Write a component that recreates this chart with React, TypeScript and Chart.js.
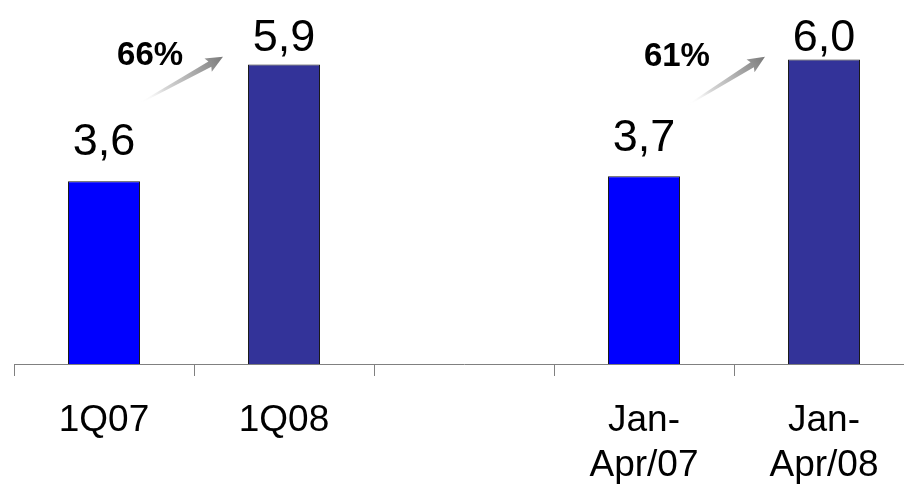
import React, { useEffect, useRef } from 'react';
import { Chart, registerables } from 'chart.js';

Chart.register(...registerables);

// ---- data ----
const categories: string[][] = [['1Q07'], ['1Q08'], [''], ['Jan-', 'Apr/07'], ['Jan-', 'Apr/08']];
const values: (number | null)[] = [3.6, 5.9, null, 3.7, 6.0];
const valueLabels: string[] = ['3,6', '5,9', '', '3,7', '6,0'];
const growthLabels: string[] = ['66%', '61%'];
const growthFrom: number[] = [0, 3];

// ---- style ----
const FONT = "'Liberation Sans', Arial, Helvetica, sans-serif";
const barColors = ['#0000FF', '#333399', '#0000FF', '#0000FF', '#333399'];
const labelGaps = [26, 13, 0, 25, 8];
// annotation placement in (category offset, value) units relative to source category
const growthTextPos = [
  { dx: 0.256, v: 5.89 },
  { dx: 0.183, v: 5.87 },
];
const arrowPos = [
  { tdx: 0.2, tv: 5.14, hdx: 0.661, hv: 6.05 },
  { tdx: 0.244, tv: 5.1, hdx: 0.672, hv: 6.05 },
];

function drawArrow(ctx: CanvasRenderingContext2D, x0: number, y0: number, x1: number, y1: number) {
  const dx = x1 - x0;
  const dy = y1 - y0;
  const len = Math.hypot(dx, dy);
  const ux = dx / len, uy = dy / len;
  const nx = -uy, ny = ux;
  const headLen = 15;
  const bx = x1 - ux * headLen, by = y1 - uy * headLen;
  const grad = ctx.createLinearGradient(x0, y0, x1, y1);
  grad.addColorStop(0, 'rgba(255,255,255,0)');
  grad.addColorStop(0.3, 'rgba(210,210,210,0.9)');
  grad.addColorStop(1, '#7a7a7a');
  ctx.save();
  ctx.fillStyle = grad;
  ctx.beginPath();
  ctx.moveTo(x0 + nx * 0.6, y0 + ny * 0.6);
  ctx.lineTo(bx + nx * 3, by + ny * 3);
  ctx.lineTo(bx + nx * 7.5 - ux * 2, by + ny * 7.5 - uy * 2);
  ctx.lineTo(x1, y1);
  ctx.lineTo(bx - nx * 7.5 - ux * 2, by - ny * 7.5 - uy * 2);
  ctx.lineTo(bx - nx * 3, by - ny * 3);
  ctx.lineTo(x0 - nx * 0.6, y0 - ny * 0.6);
  ctx.closePath();
  ctx.fill();
  ctx.restore();
}

const annotationPlugin = {
  id: 'annotations',
  afterDatasetsDraw(chart: any) {
    const ctx: CanvasRenderingContext2D = chart.ctx;
    const xs = chart.scales.x;
    const ys = chart.scales.y;
    const meta = chart.getDatasetMeta(0);
    const catW = xs.getPixelForValue(1) - xs.getPixelForValue(0);
    ctx.save();
    ctx.fillStyle = '#000';
    ctx.font = `45px ${FONT}`;
    ctx.textAlign = 'center';
    ctx.textBaseline = 'alphabetic';
    meta.data.forEach((bar: any, i: number) => {
      if (values[i] == null) return;
      ctx.fillText(valueLabels[i], bar.x, bar.y - labelGaps[i]);
    });
    growthLabels.forEach((lbl, k) => {
      const base = xs.getPixelForValue(growthFrom[k]);
      const tp = growthTextPos[k];
      ctx.font = `bold 33px ${FONT}`;
      ctx.fillStyle = '#000';
      ctx.fillText(lbl, base + tp.dx * catW, ys.getPixelForValue(tp.v));
      const ap = arrowPos[k];
      drawArrow(
        ctx,
        base + ap.tdx * catW,
        ys.getPixelForValue(ap.tv),
        base + ap.hdx * catW,
        ys.getPixelForValue(ap.hv)
      );
    });
    ctx.restore();
  },
};

export default function App() {
  const ref = useRef<HTMLCanvasElement | null>(null);
  useEffect(() => {
    if (!ref.current) return;
    const chart = new Chart(ref.current, {
      type: 'bar',
      data: {
        labels: categories,
        datasets: [
          {
            data: values,
            backgroundColor: barColors,
            borderColor: '#1a1a1a',
            borderWidth: 1,
            barPercentage: 0.4,
            categoryPercentage: 1,
          },
        ],
      },
      options: {
        animation: false,
        responsive: false,
        devicePixelRatio: 1,
        layout: { padding: { left: 14, right: 0, top: 0, bottom: 0 } },
        plugins: { legend: { display: false }, tooltip: { enabled: false } },
        scales: {
          x: {
            afterFit: (scale: any) => {
              scale.height = 122;
            },
            grid: {
              display: true,
              drawOnChartArea: false,
              drawTicks: true,
              tickLength: 12,
              color: '#808080',
              offset: true,
            },
            border: { display: true, color: '#808080', width: 1 },
            ticks: {
              color: '#000',
              font: { family: FONT, size: 37, lineHeight: '45px' },
              padding: 22,
              maxRotation: 0,
              autoSkip: false,
            },
          },
          y: { display: false, min: 0, max: 7.17 },
        },
      },
      plugins: [annotationPlugin],
    } as any);
    return () => chart.destroy();
  }, []);
  return (
    <div style={{ position: 'fixed', left: 0, top: 0, width: 904, height: 486, overflow: 'hidden', background: '#fff' }}>
      <canvas ref={ref} width={914} height={486} style={{ display: 'block' }} />
    </div>
  );
}
